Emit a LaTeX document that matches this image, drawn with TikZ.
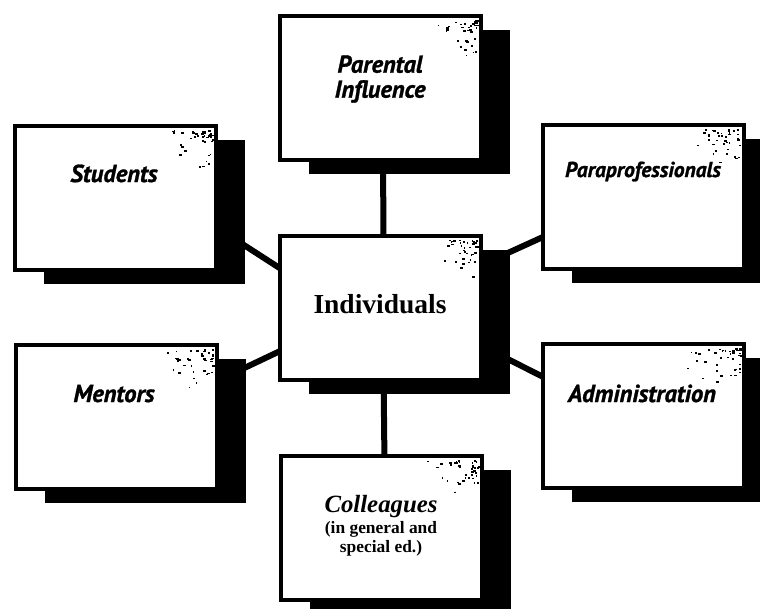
\documentclass[tikz,border=0pt]{standalone}
\usepackage{fontspec}
\setmainfont{Liberation Serif}
\newfontfamily\collfont{Liberation Serif}
\newfontfamily\labelfont{PT Sans}[BoldItalicFeatures={FakeBold=1.2}]
\usetikzlibrary{shadows,calc,backgrounds}

\begin{document}
\begin{tikzpicture}[x=1pt,y=-1pt,
  box/.style={draw=black, line width=4pt, fill=white,
    minimum width=201pt, minimum height=144pt, inner sep=0pt,
    drop shadow={shadow xshift=29pt, shadow yshift=-14pt, fill=black, opacity=1}},
  sanslab/.style={inner sep=0pt, font=\labelfont\bfseries\itshape\fontsize{24.5}{25}\selectfont},
  smallsanslab/.style={inner sep=0pt, font=\labelfont\bfseries\itshape\fontsize{21.5}{25}\selectfont},
  titlelab/.style={inner sep=0pt, font=\collfont\bfseries\fontsize{27.5}{30}\selectfont},
  link/.style={draw=black, line width=6pt},
  speck/.style={fill=black}]
  \useasboundingbox (0,0) rectangle (760,608);
  \clip (0,0) rectangle (760,608);

  % boxes
  \node[box] (par)  at (380,88)    {};
  \node[box] (stud) at (115.5,198) {};
  \node[box] (para) at (643,196.5) {};
  \node[box] (ind)  at (380.5,307.5) {};
  \node[box] (ment) at (116,417)   {};
  \node[box] (adm)  at (643.5,416) {};
  \node[box] (coll) at (381.5,527.5) {};

  % connectors, behind the boxes and their shadows
  \begin{pgfonlayer}{background}
    \draw[link] ($(par.south)+(3,-10)$) -- ($(ind.north)+(3,10)$);
    \draw[link] ($(ind.south)+(3,-10)$) -- ($(coll.north)+(3,10)$);
    \draw[link] ($(stud.east)+(10.4,37)$) -- ($(ind.west)+(18.6,-28.5)$);
    \draw[link] ($(ment.east)+(9,-41)$) -- ($(ind.west)+(19,35.5)$);
    \draw[link] ($(para.west)+(20,32.5)$) -- ($(ind.east)+(5,-45.5)$);
    \draw[link] ($(adm.west)+(20,-30)$) -- ($(ind.east)+(5,41.5)$);
  \end{pgfonlayer}

  % grainy toner marks in the upper right corners
  \pgfmathsetseed{17}
  \foreach \b in {par,stud,para,ind,ment,adm,coll}{
    \foreach \i in {1,...,40}{
      \pgfmathsetmacro\dx{-6-55*rnd*rnd}
      \pgfmathsetmacro\dy{6+42*rnd*rnd}
      \pgfmathsetmacro\sw{1+2*rnd}
      \fill[speck] ($(\b.north east)+(\dx,\dy)$) rectangle ++(\sw,1.6);
    }
  }

  % labels
  \node[sanslab, align=center] (tpar) at (380,79) {Parental\\Influence};
  \node[sanslab, anchor=base] (tstud) at (114,182) {Students};
  \node[smallsanslab, anchor=base] (tpara) at (643,177) {Paraprofessionals};
  \node[titlelab, anchor=base] (tind) at (380,313) {Individuals};
  \node[sanslab, anchor=base] (tment) at (114,402) {Mentors};
  \node[sanslab, anchor=base] (tadm) at (642,402) {Administration};
  \node[inner sep=0pt, align=center, font=\collfont\bfseries\fontsize{17.4}{19.5}\selectfont] (tcoll) at (381,526)
    {{\itshape\fontsize{24.8}{25}\selectfont Colleagues}\\[1pt](in general and\\special ed.)};
\end{tikzpicture}
\end{document}
